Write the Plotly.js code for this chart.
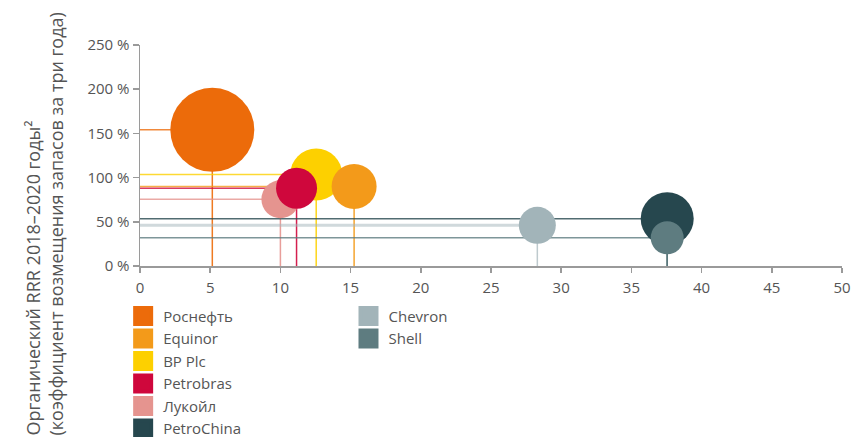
<!DOCTYPE html>
<html>
<head>
<meta charset="utf-8">
<script src="https://cdn.plot.ly/plotly-3.0.1.min.js"></script>
<style>
  html, body { margin: 0; padding: 0; background: #fff; }
  #chart { width: 853px; height: 437px; }
</style>
</head>
<body>
<div id="chart"></div>
<script>
// ---- data (legend order) ----
const companies = ['Роснефть', 'Equinor', 'BP Plc', 'Petrobras', 'Лукойл', 'PetroChina', 'Chevron', 'Shell'];
const xValues   = [5.15, 15.25, 12.55, 11.15, 10.0, 37.55, 28.3, 37.55];
const rrrValues = [154, 90, 103.5, 88, 75.5, 53.5, 46, 32];
const bubbleSizes = [84, 45, 52, 41, 38, 53, 37, 33];
const xTickValues = [0, 5, 10, 15, 20, 25, 30, 35, 40, 45, 50];
const yTickValues = [0, 50, 100, 150, 200, 250];
const yTickLabels = ['0 %', '50 %', '100 %', '150 %', '200 %', '250 %'];
const yTitleLines = ['Органический RRR 2018–2020 годы²', '(коэффициент возмещения запасов за три года)'];

// ---- styles ----
const colors = ['#EC6B0A', '#F39A1A', '#FDD000', '#CF073C', '#E5948F', '#26474E', '#A2B4B9', '#5E7C80'];
const drawOrder = [0, 2, 1, 4, 3, 6, 5, 7];
const FONT = '"Open Sans", "Noto Sans", sans-serif';
const TXT = '#555555';
const AX = '#9a9a9a';

const traces = [];

// guide lines (behind bubbles)
drawOrder.forEach(i => {
  const isChevron = companies[i] === 'Chevron';
  traces.push({
    type: 'scatter', mode: 'lines', showlegend: false, hoverinfo: 'skip',
    x: [0, xValues[i]], y: [rrrValues[i], rrrValues[i]],
    line: { color: colors[i], width: isChevron ? 3 : 1.5 },
    opacity: isChevron ? 0.5 : 0.8
  });
  traces.push({
    type: 'scatter', mode: 'lines', showlegend: false, hoverinfo: 'skip',
    x: [xValues[i], xValues[i]], y: [0, rrrValues[i]],
    line: { color: colors[i], width: 1.5 },
    opacity: isChevron ? 0.7 : 0.9
  });
});

// bubbles
traces.push({
  type: 'scatter', mode: 'markers', showlegend: false,
  x: drawOrder.map(i => xValues[i]),
  y: drawOrder.map(i => rrrValues[i]),
  text: drawOrder.map(i => companies[i]),
  hovertemplate: '%{text}: %{x}, %{y} %<extra></extra>',
  marker: {
    size: drawOrder.map(i => bubbleSizes[i]),
    sizemode: 'diameter', sizeref: 1,
    color: drawOrder.map(i => colors[i]),
    opacity: 1,
    line: { width: 0 }
  }
});

// legend entries (square swatches)
companies.forEach((name, i) => {
  traces.push({
    type: 'scatter', mode: 'markers', name: name,
    x: [null], y: [null],
    legend: i < 6 ? 'legend' : 'legend2',
    marker: { symbol: 'square', size: 16, color: colors[i], line: { color: colors[i], width: 4 } },
    hoverinfo: 'skip'
  });
});

const legendCommon = {
  orientation: 'v', xanchor: 'left', yanchor: 'top',
  font: { family: FONT, size: 15, color: TXT },
  bgcolor: 'rgba(0,0,0,0)', borderwidth: 0, tracegroupgap: 0,
  itemclick: false, itemdoubleclick: false
};

const layout = {
  width: 853, height: 437,
  margin: { l: 140, r: 11, t: 45, b: 171, autoexpand: false },
  paper_bgcolor: '#ffffff', plot_bgcolor: '#ffffff',
  font: { family: FONT, color: TXT },
  xaxis: {
    range: [0, 50], tickvals: xTickValues, ticktext: xTickValues.map(String),
    showgrid: false, zeroline: false, showline: true, linecolor: AX, linewidth: 1.5,
    ticks: 'outside', ticklen: 5, tickcolor: AX, tickwidth: 1.5, ticklabelstandoff: 2,
    tickfont: { family: FONT, size: 15, color: TXT }, fixedrange: true, automargin: false
  },
  yaxis: {
    range: [0, 250], tickvals: yTickValues, ticktext: yTickLabels,
    showgrid: false, zeroline: false, showline: true, linecolor: AX, linewidth: 1.5,
    ticks: 'outside', ticklen: 6, tickcolor: AX, tickwidth: 1.5,
    tickfont: { family: FONT, size: 15, color: TXT }, fixedrange: true, automargin: false
  },
  legend: Object.assign({ x: -0.024, y: -0.153 }, legendCommon),
  legend2: Object.assign({ x: 0.297, y: -0.153 }, legendCommon),
  annotations: [{
    xref: 'paper', yref: 'paper', x: -0.172, y: -0.775,
    xanchor: 'left', yanchor: 'bottom', textangle: -90, align: 'left',
    showarrow: false,
    text: yTitleLines.join('<br>'),
    font: { family: FONT, size: 18, color: TXT }
  }],
  showlegend: true
};

Plotly.newPlot('chart', traces, layout, { displayModeBar: false, staticPlot: true });
</script>
</body>
</html>
